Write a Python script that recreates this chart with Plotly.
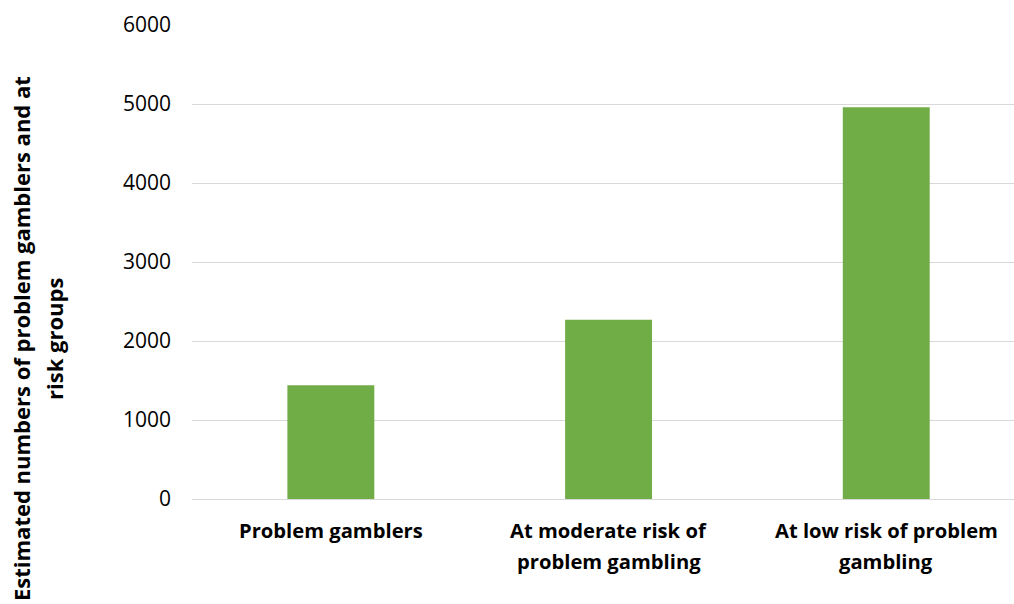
import plotly.graph_objects as go

# Category labels (line breaks mark where each label wraps)
categories = [
    "Problem gamblers",
    "At moderate risk of<br>problem gambling",
    "At low risk of problem<br>gambling",
]
estimated_numbers = [1440, 2270, 4960]

y_ticks = [0, 1000, 2000, 3000, 4000, 5000, 6000]
y_title_lines = ["Estimated numbers of problem gamblers and at", "risk groups"]

FONT = "Open Sans, Lato, sans-serif"
BAR_COLOR = "#70AD47"
GRID_COLOR = "#D9D9D9"

fig = go.Figure()
fig.add_trace(
    go.Bar(
        x=list(range(len(categories))),
        y=estimated_numbers,
        marker=dict(color=BAR_COLOR, line=dict(width=0)),
        hoverinfo="skip",
    )
)

annotations = []
# Category labels, drawn line by line under each bar
LABEL_LINE_GAP = 31
for i, label in enumerate(categories):
    for j, line in enumerate(label.split("<br>")):
        annotations.append(
            dict(
                x=i, xref="x", y=0, yref="paper",
                text=f"<b>{line}</b>", showarrow=False,
                xanchor="center", yanchor="middle",
                yshift=-(31 + j * LABEL_LINE_GAP),
                font=dict(family=FONT, size=20.2, color="#000000"),
            )
        )

# Rotated two-line y-axis title
TITLE_LINE_GAP = 33
for j, line in enumerate(y_title_lines):
    annotations.append(
        dict(
            x=0, xref="paper", y=0, yref="paper",
            text=f"<b>{line}</b>", showarrow=False, textangle=-90,
            xanchor="center", yanchor="middle",
            xshift=-171 + j * TITLE_LINE_GAP, yshift=160,
            font=dict(family=FONT, size=22, color="#000000"),
        )
    )

fig.update_layout(
    width=1014,
    height=604,
    margin=dict(l=192, r=0, t=25, b=105),
    paper_bgcolor="white",
    plot_bgcolor="white",
    bargap=0.687,
    showlegend=False,
    annotations=annotations,
    xaxis=dict(
        range=[-0.5, 2.46],
        showticklabels=False,
        showgrid=False,
        zeroline=False,
        showline=False,
        ticks="",
        fixedrange=True,
    ),
    yaxis=dict(
        range=[0, 6000],
        tickvals=y_ticks,
        ticktext=[str(v) for v in y_ticks],
        showgrid=True,
        gridcolor=GRID_COLOR,
        gridwidth=1.3,
        zeroline=True,
        zerolinecolor=GRID_COLOR,
        zerolinewidth=1.3,
        showline=False,
        ticks="",
        ticklabelstandoff=20,
        tickfont=dict(family=FONT, size=21, color="#000000"),
        fixedrange=True,
    ),
)

fig.write_html("out.html")
